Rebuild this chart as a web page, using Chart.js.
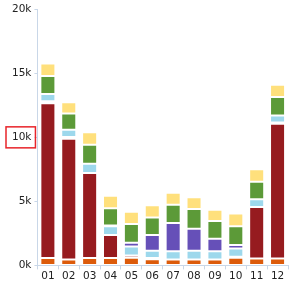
<!DOCTYPE html>
<html>
<head>
<meta charset="utf-8">
<script src="https://cdn.jsdelivr.net/npm/chart.js@4"></script>
<style>
  html, body { margin: 0; padding: 0; background: #fff; }
  #wrap { width: 291px; height: 284px; }
</style>
</head>
<body>
<div id="wrap"><canvas id="myChart"></canvas></div>
<script>
const months = ['01', '02', '03', '04', '05', '06', '07', '08', '09', '10', '11', '12']
const orangeVals = [570, 460, 570, 570, 600, 490, 470, 470, 470, 600, 540, 540]
const redVals = [12090, 9440, 6640, 1810, 180, 80, 0, 0, 0, 80, 4030, 10520]
const navyVals = [160, 120, 0, 0, 0, 0, 0, 0, 0, 0, 0, 100]
const lightBlueVals = [570, 580, 720, 670, 690, 570, 640, 670, 640, 640, 600, 550]
const purpleVals = [0, 0, 0, 70, 290, 1240, 2200, 1730, 980, 280, 0, 0]
const greenVals = [1410, 1260, 1500, 1350, 1470, 1360, 1420, 1530, 1370, 1450, 1370, 1440]
const yellowVals = [960, 880, 960, 960, 960, 960, 950, 920, 880, 1000, 960, 960]
const yTicks = [0, 5000, 10000, 15000, 20000]
const boxedTick = 10000
const tickFont = { size: 10.5, family: 'DejaVu Sans' }

function series(label, data, color) {
    return {
        label: label,
        data: data,
        backgroundColor: color,
        borderColor: 'rgba(255,255,255,0.35)',
        borderWidth: 1,
        borderSkipped: false
    }
}

// red frame around one y tick label
const boxPlugin = {
    id: 'tickBox',
    afterDraw(chart) {
        const y = chart.scales.y
        const ctx = chart.ctx
        const py = y.getPixelForValue(boxedTick)
        ctx.save()
        ctx.font = tickFont.size + 'px "DejaVu Sans"'
        const w = ctx.measureText(boxedTick / 1000 + 'k').width
        const right = y.right - 2
        ctx.strokeStyle = '#e8242a'
        ctx.lineWidth = 1.5
        ctx.strokeRect(right - w - 10, py - 10.5, w + 10, 21)
        ctx.restore()
    }
}

const ctx = document.getElementById('myChart').getContext('2d')
const chart = new Chart(ctx, {
    type: 'bar',
    data: {
        labels: months,
        datasets: [
            series('orange', orangeVals, '#dc5b0b'),
            series('red', redVals, '#961b1f'),
            series('navy', navyVals, '#3f3aa8'),
            series('light blue', lightBlueVals, '#9dd8ec'),
            series('purple', purpleVals, '#6650b8'),
            series('green', greenVals, '#5c9a38'),
            series('yellow', yellowVals, '#ffe07c')
        ]
    },
    options: {
        responsive: true,
        maintainAspectRatio: false,
        animation: false,
        layout: { padding: { top: 1, right: 3, left: 9, bottom: 0 } },
        plugins: { legend: { display: false }, tooltip: { enabled: false } },
        scales: {
            x: {
                stacked: true,
                grid: { display: true, drawOnChartArea: false, color: '#c9d7e8', tickLength: 4, offset: true },
                border: { color: '#c9d7e8' },
                ticks: { color: '#222', font: tickFont, padding: 1, maxRotation: 0, autoSkip: false }
            },
            y: {
                stacked: true,
                min: 0,
                max: 20000,
                afterBuildTicks: (scale) => { scale.ticks = yTicks.map(v => ({ value: v })) },
                grid: { display: true, drawOnChartArea: false, color: '#c9d7e8', tickLength: 3 },
                border: { color: '#c9d7e8' },
                ticks: {
                    color: '#222',
                    font: tickFont,
                    padding: 3,
                    callback: (v) => (v / 1000) + 'k'
                }
            }
        }
    },
    plugins: [boxPlugin]
})
</script>
</body>
</html>
